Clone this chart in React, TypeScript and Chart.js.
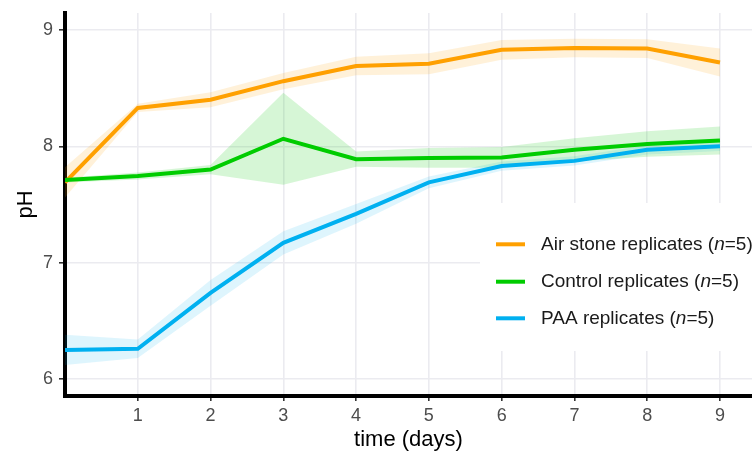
import React, { useEffect, useRef } from "react";
import { Chart, registerables } from "chart.js";

Chart.register(...registerables);

const days = [0, 1, 2, 3, 4, 5, 6, 7, 8, 9];
const airMean = [7.69, 8.33, 8.4, 8.56, 8.69, 8.71, 8.83, 8.845, 8.84, 8.72];
const airCi = [0.13, 0.035, 0.065, 0.07, 0.08, 0.09, 0.085, 0.08, 0.08, 0.12];
const controlMean = [7.71, 7.745, 7.8, 8.065, 7.89, 7.9, 7.905, 7.97, 8.02, 8.05];
const controlCi = [0.02, 0.03, 0.04, 0.395, 0.065, 0.085, 0.09, 0.1, 0.11, 0.12];
const paaMean = [6.25, 6.26, 6.74, 7.17, 7.42, 7.69, 7.83, 7.875, 7.97, 8.0];
const paaCi = [0.13, 0.08, 0.11, 0.1, 0.085, 0.05, 0.04, 0.04, 0.04, 0.04];

const xTicks = [1, 2, 3, 4, 5, 6, 7, 8, 9];
const yTicks = [6, 7, 8, 9];
const seriesNames = ["Air stone replicates", "Control replicates", "PAA replicates"];
const seriesN = [5, 5, 5];

const lineColors = ["#FFA000", "#00CC00", "#00B0F0"];
const ribbonColors = ["rgba(255,160,0,0.15)", "rgba(0,200,0,0.16)", "rgba(0,176,240,0.13)"];

const pts = (vals: number[]) => days.map((d, i) => ({ x: d, y: vals[i] }));

const FONT = "'Liberation Sans', Arial, sans-serif";

const legendPlugin = {
  id: "customLegend",
  afterDatasetsDraw(chart: any) {
    const ctx = chart.ctx;
    ctx.save();
    ctx.fillStyle = "#ffffff";
    ctx.fillRect(480, 203, 272, 148);
    const rows = [244.3, 281.7, 318.3];
    seriesNames.forEach((name, i) => {
      const y = rows[i];
      ctx.strokeStyle = lineColors[i];
      ctx.lineWidth = 4;
      ctx.beginPath();
      ctx.moveTo(496, y);
      ctx.lineTo(525, y);
      ctx.stroke();
      ctx.fillStyle = "#1a1a1a";
      ctx.textBaseline = "middle";
      ctx.textAlign = "left";
      let x = 541;
      const normal = `19px ${FONT}`;
      const italic = `italic 19px ${FONT}`;
      const parts: [string, string][] = [
        [name + " (", normal],
        ["n", italic],
        ["=" + seriesN[i] + ")", normal],
      ];
      for (const [t, f] of parts) {
        ctx.font = f;
        ctx.fillText(t, x, y);
        x += ctx.measureText(t).width;
      }
    });
    ctx.restore();
  },
};

export default function App() {
  const ref = useRef<HTMLCanvasElement | null>(null);
  useEffect(() => {
    document.body.style.margin = "0";
    document.body.style.overflow = "hidden";
    const canvas = ref.current!;
    const ribbon = (mean: number[], ci: number[], idx: number) => [
      {
        data: pts(mean.map((m, i) => m + ci[i])),
        borderWidth: 0,
        pointRadius: 0,
        fill: false,
        order: 5,
      },
      {
        data: pts(mean.map((m, i) => m - ci[i])),
        borderWidth: 0,
        pointRadius: 0,
        fill: "-1",
        backgroundColor: ribbonColors[idx],
        order: 5,
      },
    ];
    const line = (mean: number[], idx: number, order: number) => ({
      label: seriesNames[idx],
      data: pts(mean),
      borderColor: lineColors[idx],
      borderWidth: 4,
      pointRadius: 0,
      fill: false,
      tension: 0,
      order,
    });
    const chart = new Chart(canvas, {
      type: "line",
      data: {
        datasets: [
          ...ribbon(airMean, airCi, 0),
          ...ribbon(controlMean, controlCi, 1),
          ...ribbon(paaMean, paaCi, 2),
          line(airMean, 0, 2),
          line(controlMean, 1, 1),
          line(paaMean, 2, 0),
        ] as any,
      },
      options: {
        animation: false,
        responsive: false,
        devicePixelRatio: 1,
        layout: { padding: { top: 13, right: 0, left: 0, bottom: 0 } },
        plugins: {
          legend: { display: false },
          tooltip: { enabled: false },
          filler: { propagate: false },
        },
        scales: {
          x: {
            type: "linear",
            min: 0,
            max: 9.44,
            afterBuildTicks: (s: any) => {
              s.ticks = xTicks.map((v) => ({ value: v }));
            },
            afterFit: (s: any) => {
              s.height = 56;
              s.paddingLeft = 0;
              s.paddingRight = 0;
              s.paddingTop = 0;
              s.paddingBottom = 0;
            },
            grid: {
              color: "#ebebf0",
              lineWidth: 1.6,
              tickColor: "#333333",
              tickLength: 5,
            },
            border: { color: "#000000", width: 4 },
            ticks: {
              color: "#4d4d4d",
              font: { family: FONT, size: 18 },
              padding: 4,
              maxRotation: 0,
              autoSkip: false,
            },
            title: {
              display: true,
              text: "time (days)",
              color: "#000000",
              font: { family: FONT, size: 22, lineHeight: 1 },
              padding: { top: 0, bottom: 1 },
            },
          },
          y: {
            type: "linear",
            min: 5.854,
            max: 9.146,
            afterBuildTicks: (s: any) => {
              s.ticks = yTicks.map((v) => ({ value: v }));
            },
            afterFit: (s: any) => {
              s.width = 65;
              s.paddingLeft = 0;
              s.paddingRight = 0;
              s.paddingTop = 0;
              s.paddingBottom = 0;
            },
            grid: {
              color: "#ebebf0",
              lineWidth: 1.6,
              tickColor: "#333333",
              tickLength: 6,
            },
            border: { color: "#000000", width: 4 },
            ticks: {
              color: "#4d4d4d",
              font: { family: FONT, size: 18 },
              padding: 6,
            },
            title: {
              display: true,
              text: "pH",
              color: "#000000",
              font: { family: FONT, size: 22, lineHeight: 1 },
              padding: { top: 15, bottom: 0 },
            },
          },
        },
      },
      plugins: [legendPlugin],
    });
    return () => chart.destroy();
  }, []);
  return <canvas ref={ref} width={752} height={452} style={{ display: "block" }} />;
}
